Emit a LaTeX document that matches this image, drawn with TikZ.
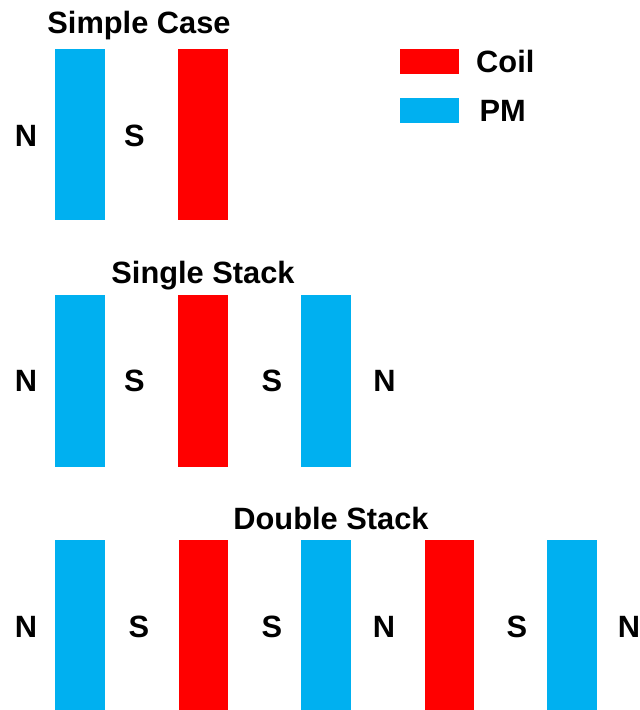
\documentclass[tikz,border=0pt]{standalone}
\usepackage{fontspec}
\setmainfont{Liberation Sans}
\definecolor{pmblue}{HTML}{00B0F0}
\definecolor{coilred}{HTML}{FF0000}
\begin{document}
\begin{tikzpicture}[x=1pt,y=-1pt,
  lbl/.style={inner sep=0pt,anchor=base,font=\fontsize{30.8}{31}\selectfont\bfseries},
  pm/.style={fill=pmblue,draw=none},
  coil/.style={fill=coilred,draw=none}]
\useasboundingbox (0,0) rectangle (640,710);

% Legend
\fill[coil] (400,49) rectangle (459,74);
\fill[pm] (400,98) rectangle (459,123);
\node[lbl,anchor=base west] (lcoil) at (476,72.5) {Coil};
\node[lbl,anchor=base west] (lpm) at (479.5,121.5) {PM};

% Simple case
\node[lbl] (t1) at (139,33) {Simple Case};
\fill[pm] (55,49) rectangle (105,220);
\fill[coil] (178,49) rectangle (228,220);
\node[lbl] (n1a) at (26,146.5) {N};
\node[lbl] (s1a) at (134.5,146.5) {S};

% Single stack
\node[lbl] (t2) at (203,283) {Single Stack};
\fill[pm] (55,295) rectangle (105,467);
\fill[coil] (178,295) rectangle (228,467);
\fill[pm] (301,295) rectangle (351,467);
\node[lbl] (n2a) at (26,391.5) {N};
\node[lbl] (s2a) at (134.5,391.5) {S};
\node[lbl] (s2b) at (272,391.5) {S};
\node[lbl] (n2b) at (384.5,391.5) {N};

% Double stack
\node[lbl] (t3) at (331,529) {Double Stack};
\fill[pm] (55,540) rectangle (105,710);
\fill[coil] (179,540) rectangle (228,710);
\fill[pm] (301,540) rectangle (351,710);
\fill[coil] (425,540) rectangle (474,710);
\fill[pm] (547,540) rectangle (597,710);
\node[lbl] (n3a) at (26,637.5) {N};
\node[lbl] (s3a) at (139,637.5) {S};
\node[lbl] (s3b) at (272,637.5) {S};
\node[lbl] (n3b) at (384,637.5) {N};
\node[lbl] (s3c) at (517,637.5) {S};
\node[lbl] (n3c) at (629,637.5) {N};
\end{tikzpicture}
\end{document}
